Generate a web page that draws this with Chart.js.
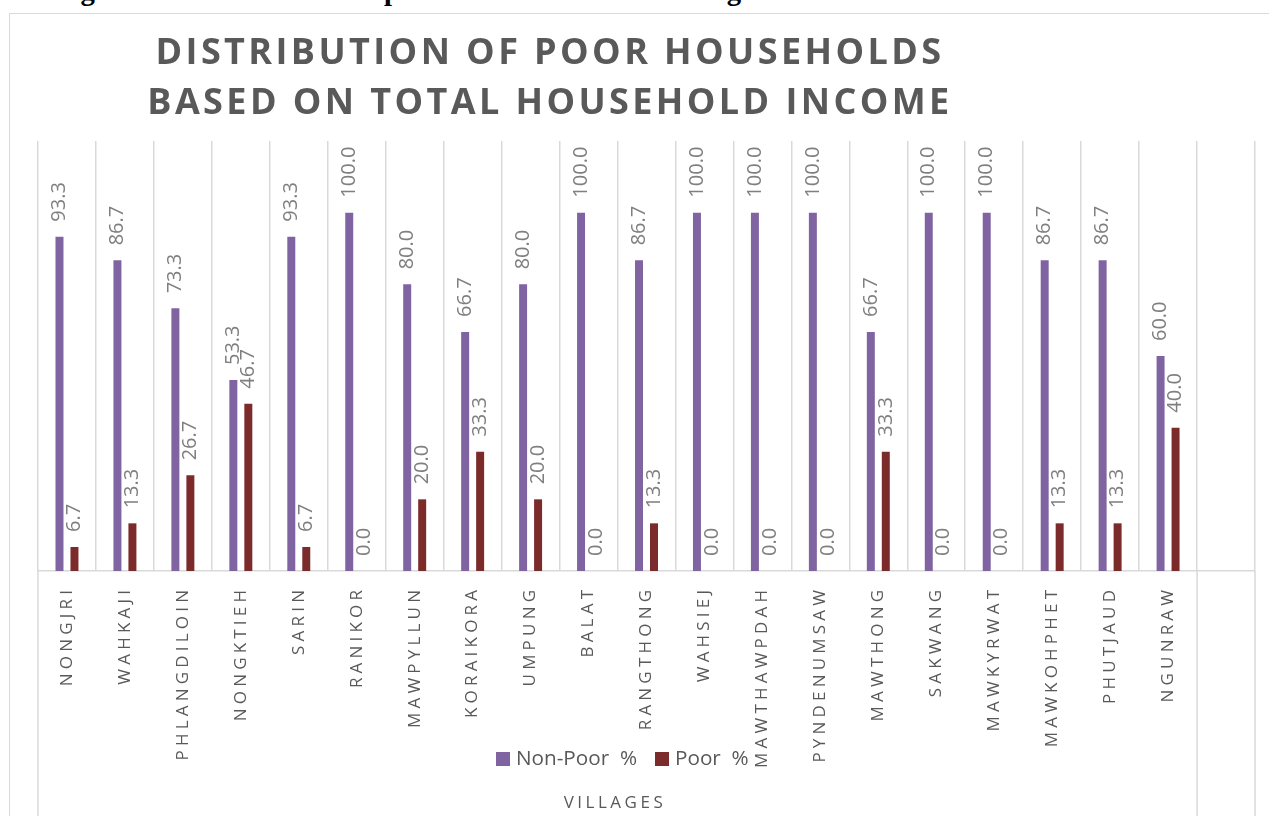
<!DOCTYPE html>
<html>
<head>
<meta charset="utf-8">
<script src="https://cdn.jsdelivr.net/npm/chart.js@4.4.1/dist/chart.umd.min.js"></script>
<style>
  body { margin: 0; width: 1269px; height: 816px; overflow: hidden; position: relative; background: #fff; font-family: 'Open Sans', sans-serif; }
  #caption { position: absolute; left: 55px; top: -20px; font-family: 'Liberation Serif', serif; font-weight: bold; font-size: 25px; line-height: 1; color: #000; white-space: nowrap; }
  #frame { position: absolute; left: 9px; top: 13px; width: 1400px; height: 900px; border: 1px solid #d9d9d9; box-sizing: border-box; }
  #title { position: absolute; left: 100px; width: 900px; top: 26px; text-align: center; font-weight: bold; font-size: 36px; line-height: 50px; letter-spacing: 3.4px; color: #595959; }
  .leg { position: absolute; top: 743px; font-size: 20.7px; color: #595959; white-space: pre; }
  .leg span { display: inline-block; width: 14px; height: 14px; vertical-align: -1px; margin-right: 6px; }
  #axisTitle { position: absolute; left: 540px; width: 150px; top: 790px; text-align: center; font-size: 17px; letter-spacing: 3.5px; color: #595959; }
  #wrap { position: absolute; left: 0; top: 0; }
</style>
</head>
<body>
<div id="caption">Figure 4.1: Distribution of poor households across villages based on total household income</div>
<div id="frame"></div>
<div id="wrap"><canvas id="chart" width="1269" height="816"></canvas></div>
<div id="title">DISTRIBUTION OF POOR HOUSEHOLDS<br>BASED ON TOTAL HOUSEHOLD INCOME</div>
<div class="leg" style="left:496px"><span style="background:#8064a2"></span>Non-Poor  %</div>
<div class="leg" style="left:655px"><span style="background:#7b2c2a"></span>Poor  %</div>
<div id="axisTitle">VILLAGES</div>

<script>
// villages (last slot is empty in the original chart)
const villages = ['NONGJRI', 'WAHKAJI', 'PHLANGDILOIN', 'NONGKTIEH', 'SARIN', 'RANIKOR', 'MAWPYLLUN',
  'KORAIKORA', 'UMPUNG', 'BALAT', 'RANGTHONG', 'WAHSIEJ', 'MAWTHAWPDAH', 'PYNDENUMSAW',
  'MAWTHONG', 'SAKWANG', 'MAWKYRWAT', 'MAWKOHPHET', 'PHUTJAUD', 'NGUNRAW', ''];
const nonPoor = [93.3, 86.7, 73.3, 53.3, 93.3, 100.0, 80.0, 66.7, 80.0, 100.0, 86.7, 100.0, 100.0, 100.0,
  66.7, 100.0, 100.0, 86.7, 86.7, 60.0, null];
const poor = [6.7, 13.3, 26.7, 46.7, 6.7, 0.0, 20.0, 33.3, 20.0, 0.0, 13.3, 0.0, 0.0, 0.0,
  33.3, 0.0, 0.0, 13.3, 13.3, 40.0, null];

const gridColor = '#d9d9d9';

// the caption above the chart is cut off in the original, only its bottom edge shows
const cap = document.getElementById('caption');
const fs = 25 * 1115 / cap.scrollWidth;
cap.style.fontSize = fs + 'px';
cap.style.top = (0.5 - 0.8375 * fs) + 'px';

// value labels, rotated, sitting above each bar
const barLabels = {
  id: 'barLabels',
  afterDatasetsDraw(chart) {
    const ctx = chart.ctx;
    chart.data.datasets.forEach((ds, i) => {
      const meta = chart.getDatasetMeta(i);
      meta.data.forEach((bar, j) => {
        const v = ds.data[j];
        if (v == null) return;
        ctx.save();
        ctx.translate(bar.x, bar.y - 15);
        ctx.rotate(-Math.PI / 2);
        ctx.font = "20px 'Open Sans'";
        ctx.fillStyle = '#7f7f7f';
        ctx.textAlign = 'left';
        ctx.textBaseline = 'middle';
        ctx.fillText(v.toFixed(1), 0, 0);
        ctx.restore();
      });
    });
  }
};

// category labels with letter spacing + the long separator lines below the axis
const xLabels = {
  id: 'xLabels',
  afterDraw(chart) {
    const ctx = chart.ctx;
    const xs = chart.scales.x;
    const area = chart.chartArea;
    const half = (xs.getPixelForValue(1) - xs.getPixelForValue(0)) / 2;

    ctx.save();
    ctx.strokeStyle = gridColor;
    ctx.lineWidth = 1.5;
    [xs.getPixelForValue(0) - half, xs.getPixelForValue(20) - half, xs.getPixelForValue(20) + half].forEach(x => {
      ctx.beginPath();
      ctx.moveTo(x, area.bottom);
      ctx.lineTo(x, 816);
      ctx.stroke();
    });
    ctx.restore();

    villages.forEach((name, i) => {
      if (!name) return;
      ctx.save();
      ctx.font = "17px 'Open Sans'";
      ctx.letterSpacing = '4.2px';
      ctx.fillStyle = '#595959';
      ctx.translate(xs.getPixelForValue(i), area.bottom + 19 - 4.2);
      ctx.rotate(-Math.PI / 2);
      ctx.textAlign = 'right';
      ctx.textBaseline = 'middle';
      ctx.fillText(name, 0, 0);
      ctx.restore();
    });
  }
};

const ctx = document.getElementById('chart').getContext('2d');
const chart = new Chart(ctx, {
  type: 'bar',
  data: {
    labels: villages,
    datasets: [
      { label: 'Non-Poor  %', data: nonPoor, backgroundColor: '#8064a2' },
      { label: 'Poor  %', data: poor, backgroundColor: '#7b2c2a' }
    ]
  },
  options: {
    responsive: false,
    animation: false,
    layout: { padding: { left: 38, right: 14, top: 141, bottom: 245 } },
    datasets: { bar: { categoryPercentage: 0.517, barPercentage: 0.533 } },
    plugins: { legend: { display: false }, tooltip: { enabled: false } },
    scales: {
      x: {
        grid: { display: true, offset: true, color: gridColor, lineWidth: 1.5, drawTicks: false },
        border: { display: true, color: gridColor, width: 1.5 },
        ticks: { display: false }
      },
      y: { display: false, min: 0, max: 120 }
    }
  },
  plugins: [barLabels, xLabels]
});
</script>
</body>
</html>
